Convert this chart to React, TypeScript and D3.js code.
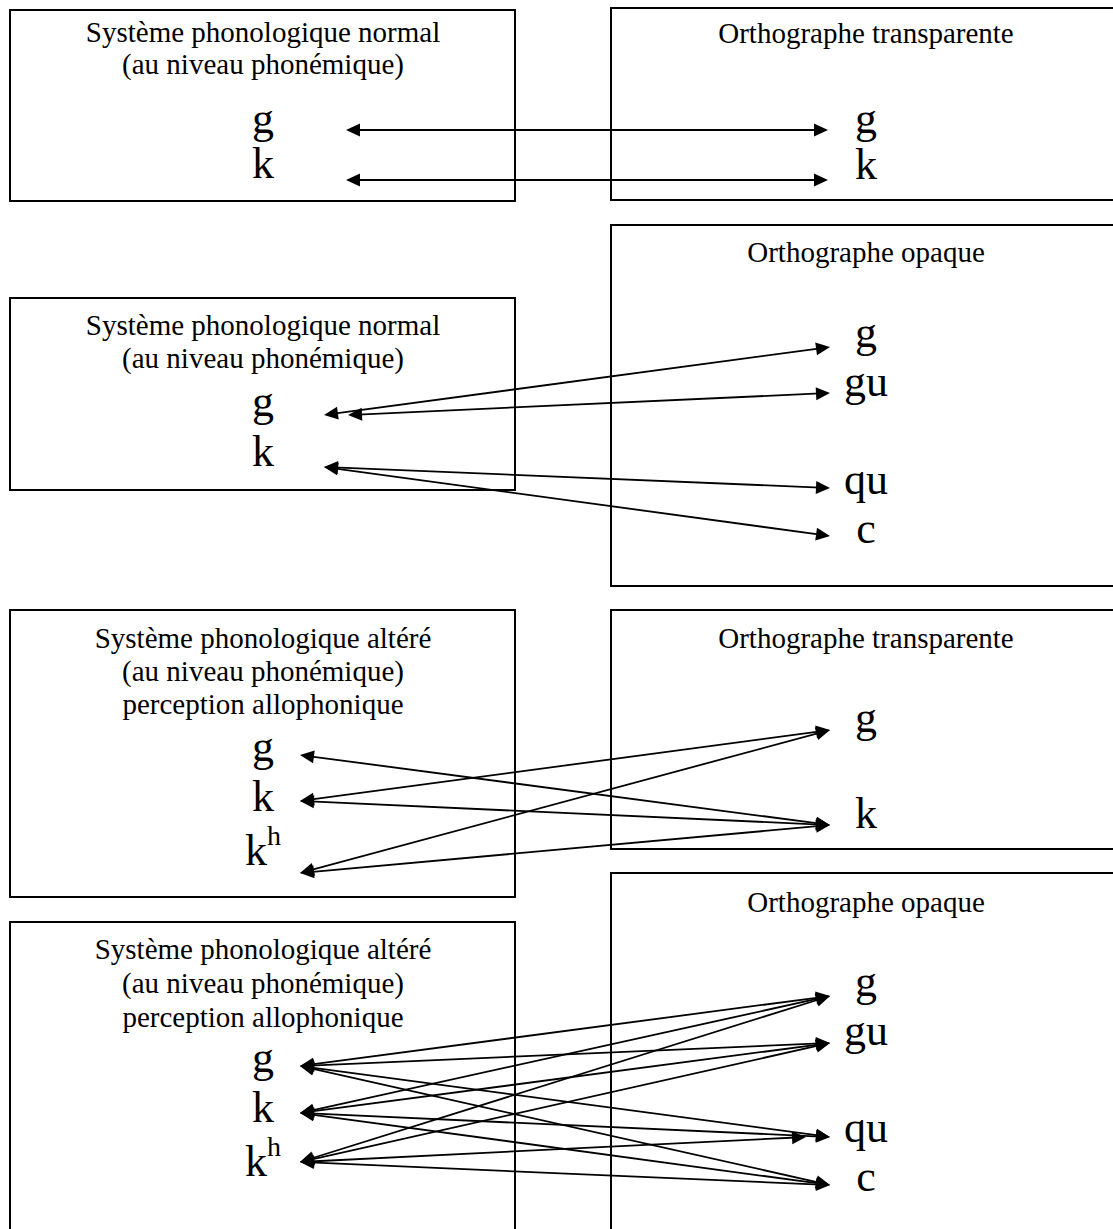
import React, { useEffect, useRef } from 'react';
import * as d3 from 'd3';

// box titles
const titleNormal = ['Système phonologique normal', '(au niveau phonémique)'];
const titleAltered = ['Système phonologique altéré', '(au niveau phonémique)', 'perception allophonique'];
const titleTransparent = ['Orthographe transparente'];
const titleOpaque = ['Orthographe opaque'];

// phonemes (left) and graphemes (right)
const phonemesNormal = ['g', 'k'];
const phonemesAltered = ['g', 'k', 'kh'];
const graphemesTransparent = ['g', 'k'];
const graphemesOpaque = ['g', 'gu', 'qu', 'c'];

// correspondences, phoneme -> grapheme
const linksNormalTransparent = [['g', 'g'], ['k', 'k']];
const linksNormalOpaque = [['g', 'g'], ['g', 'gu'], ['k', 'qu'], ['k', 'c']];
const linksAlteredTransparent = [['g', 'k'], ['k', 'g'], ['k', 'k'], ['kh', 'g'], ['kh', 'k']];
const linksAlteredOpaque = [
  ['g', 'g'], ['g', 'gu'], ['g', 'qu'], ['g', 'c'],
  ['k', 'g'], ['k', 'gu'], ['k', 'qu'], ['k', 'c'],
  ['kh', 'g'], ['kh', 'gu'], ['kh', 'qu'], ['kh', 'c'],
];

// layout (px)
const W = 1113;
const H = 1229;
const FONT = '"Liberation Serif", "Times New Roman", serif';
const TITLE_SIZE = 29;
const SYMBOL_SIZE = 44;

interface Side {
  box: [number, number, number, number];
  title: string[];
  titleY: number[];
  symbols: string[];
  textY: number[];
  arrowY: number[];
}
interface Panel {
  left: Side;
  right: Side;
  links: string[][];
  tipL: number;
  tipR: number;
  tipOverride?: Record<string, [number, number]>;
}

const panels: Panel[] = [
  {
    left: { box: [10, 10, 515, 201], title: titleNormal, titleY: [42, 74], symbols: phonemesNormal, textY: [133, 178], arrowY: [130, 180] },
    right: { box: [611, 8, 1125, 200], title: titleTransparent, titleY: [43], symbols: graphemesTransparent, textY: [133, 179], arrowY: [130, 180] },
    links: linksNormalTransparent,
    tipL: 346,
    tipR: 828,
  },
  {
    left: { box: [10, 298, 515, 490], title: titleNormal, titleY: [335, 368], symbols: phonemesNormal, textY: [416, 466], arrowY: [415, 467] },
    right: { box: [611, 225, 1125, 586], title: titleOpaque, titleY: [262], symbols: graphemesOpaque, textY: [347, 396, 494, 543], arrowY: [347, 393, 488, 536] },
    links: linksNormalOpaque,
    tipL: 324,
    tipR: 830,
    tipOverride: { 'g-gu': [348, 830] },
  },
  {
    left: { box: [10, 610, 515, 897], title: titleAltered, titleY: [648, 681, 714], symbols: phonemesAltered, textY: [761, 811, 865], arrowY: [755, 801, 873] },
    right: { box: [611, 610, 1125, 849], title: titleTransparent, titleY: [648], symbols: graphemesTransparent, textY: [732, 828], arrowY: [730, 825] },
    links: linksAlteredTransparent,
    tipL: 300,
    tipR: 830,
  },
  {
    left: { box: [10, 922, 515, 1240], title: titleAltered, titleY: [959, 993, 1027], symbols: phonemesAltered, textY: [1072, 1122, 1176], arrowY: [1066, 1113, 1162] },
    right: { box: [611, 873, 1125, 1240], title: titleOpaque, titleY: [912], symbols: graphemesOpaque, textY: [996, 1045, 1142, 1191], arrowY: [996, 1043, 1137, 1185] },
    links: linksAlteredOpaque,
    tipL: 300,
    tipR: 830,
    tipOverride: { 'kh-qu': [300, 806] },
  },
];

const LEFT_CX = 263;
const RIGHT_CX = 866;

function drawHead(g: d3.Selection<SVGGElement, unknown, null, undefined>, x: number, y: number, a: number) {
  const L = 14;
  const Wd = 6.5;
  const pts: [number, number][] = [
    [x, y],
    [x - L * Math.cos(a) - Wd * Math.sin(a), y - L * Math.sin(a) + Wd * Math.cos(a)],
    [x - L * Math.cos(a) + Wd * Math.sin(a), y - L * Math.sin(a) - Wd * Math.cos(a)],
  ];
  g.append('path')
    .attr('d', d3.line()(pts) + 'Z')
    .attr('fill', '#000');
}

export default function App() {
  const svgRef = useRef<SVGSVGElement>(null);

  useEffect(() => {
    if (!svgRef.current) return;
    const svg = d3.select(svgRef.current);
    svg.selectAll('*').remove();

    svg.append('rect').attr('width', W).attr('height', H).attr('fill', '#fff');

    panels.forEach((p) => {
      const g = svg.append('g');

      [p.left, p.right].forEach((side, si) => {
        const [x0, y0, x1, y1] = side.box;
        g.append('rect')
          .attr('x', x0)
          .attr('y', y0)
          .attr('width', x1 - x0)
          .attr('height', y1 - y0)
          .attr('fill', 'none')
          .attr('stroke', '#000')
          .attr('stroke-width', 2);

        const cx = si === 0 ? LEFT_CX : RIGHT_CX;
        side.title.forEach((t, i) => {
          g.append('text')
            .attr('x', cx)
            .attr('y', side.titleY[i])
            .attr('text-anchor', 'middle')
            .attr('font-family', FONT)
            .attr('font-size', TITLE_SIZE)
            .attr('fill', '#000')
            .text(t);
        });

        const yText = d3.scaleOrdinal<string, number>().domain(side.symbols).range(side.textY);
        side.symbols.forEach((s) => {
          if (s === 'kh') {
            // k with superscript h
            const t = g.append('text')
              .attr('x', cx - 18)
              .attr('y', yText(s))
              .attr('font-family', FONT)
              .attr('font-size', SYMBOL_SIZE)
              .attr('fill', '#000');
            t.append('tspan').text('k');
            t.append('tspan').attr('dy', -20).attr('font-size', 28).text('h');
          } else {
            g.append('text')
              .attr('x', cx)
              .attr('y', yText(s))
              .attr('text-anchor', 'middle')
              .attr('font-family', FONT)
              .attr('font-size', SYMBOL_SIZE)
              .attr('fill', '#000')
              .text(s);
          }
        });
      });

      const yL = d3.scaleOrdinal<string, number>().domain(p.left.symbols).range(p.left.arrowY);
      const yR = d3.scaleOrdinal<string, number>().domain(p.right.symbols).range(p.right.arrowY);

      p.links.forEach(([a, b]) => {
        const ov = p.tipOverride?.[`${a}-${b}`];
        const xa = ov ? ov[0] : p.tipL;
        const xb = ov ? ov[1] : p.tipR;
        const ya = yL(a);
        const yb = yR(b);
        const ang = Math.atan2(yb - ya, xb - xa);
        const inset = 10;
        g.append('line')
          .attr('x1', xa + inset * Math.cos(ang))
          .attr('y1', ya + inset * Math.sin(ang))
          .attr('x2', xb - inset * Math.cos(ang))
          .attr('y2', yb - inset * Math.sin(ang))
          .attr('stroke', '#000')
          .attr('stroke-width', 1.8);
        drawHead(g, xb, yb, ang);
        drawHead(g, xa, ya, ang + Math.PI);
      });
    });
  }, []);

  return (
    <svg
      ref={svgRef}
      width={W}
      height={H}
      style={{ position: 'absolute', left: 0, top: 0, display: 'block' }}
    />
  );
}
